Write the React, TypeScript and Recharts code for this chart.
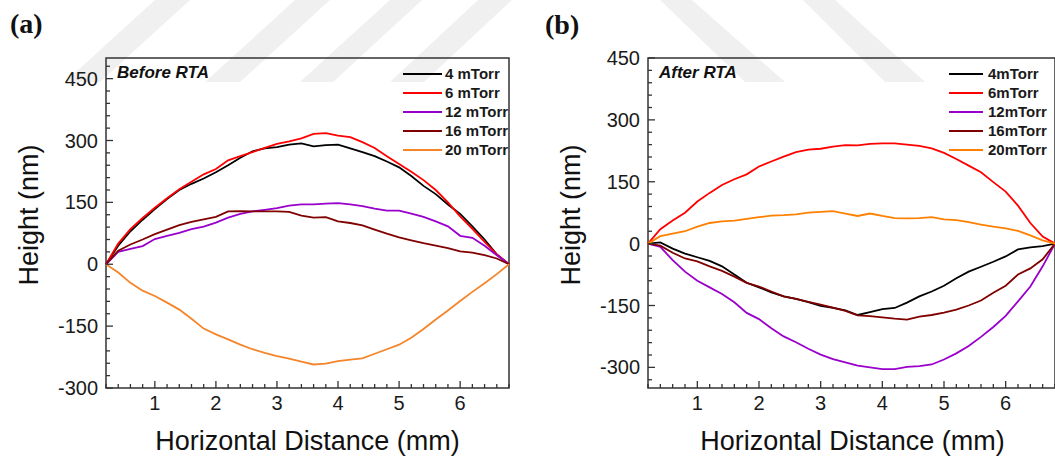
import { LineChart, Line, XAxis, YAxis, ReferenceArea, Legend } from 'recharts'

const SANS = 'Arial, "Liberation Sans", sans-serif'
const SERIF = '"Times New Roman", "Liberation Serif", serif'
const AXIS = '#333'

// Horizontal distance (mm), shared by every trace
const distance = [
  0.2, 0.4, 0.6, 0.8, 1.0, 1.2, 1.4, 1.6, 1.8, 2.0, 2.2, 2.4, 2.6, 2.8, 3.0, 3.2, 3.4,
  3.6, 3.8, 4.0, 4.2, 4.4, 4.6, 4.8, 5.0, 5.2, 5.4, 5.6, 5.8, 6.0, 6.2, 6.4, 6.6, 6.8,
]

// (a) Before RTA, height in nm
const before4 = [0, 45, 80, 108, 134, 158, 180, 195, 208, 223, 240, 258, 274, 281, 284, 290, 293, 286, 289, 290, 281, 272, 262, 249, 235, 214, 190, 170, 145, 122, 92, 60, 24, 0]
const before6 = [0, 50, 85, 112, 137, 160, 182, 200, 218, 231, 252, 262, 272, 282, 292, 298, 305, 316, 318, 312, 308, 296, 282, 262, 243, 224, 204, 180, 150, 116, 86, 54, 24, 0]
const before12 = [0, 30, 37, 44, 61, 69, 76, 85, 91, 101, 113, 122, 128, 132, 136, 142, 145, 145, 147, 148, 145, 141, 135, 130, 130, 123, 115, 104, 92, 69, 64, 45, 22, 0]
const before16 = [0, 33, 48, 60, 73, 84, 95, 103, 109, 115, 128, 129, 128, 128, 128, 127, 118, 113, 114, 104, 100, 94, 84, 74, 65, 58, 51, 45, 39, 31, 28, 22, 14, 0]
const before20 = [0, -20, -45, -64, -77, -93, -110, -132, -156, -170, -182, -195, -206, -215, -223, -229, -236, -243, -241, -235, -231, -228, -217, -206, -195, -178, -157, -134, -112, -89, -67, -46, -24, 0]

// (b) After RTA, height in nm
const after4 = [0, 3, -12, -24, -33, -42, -55, -75, -95, -106, -118, -128, -134, -142, -151, -156, -162, -173, -166, -159, -156, -143, -128, -116, -102, -84, -68, -56, -44, -31, -14, -9, -6, 0]
const after6 = [0, 35, 56, 75, 102, 123, 142, 156, 168, 187, 199, 211, 222, 228, 230, 235, 239, 238, 242, 243, 243, 240, 237, 231, 220, 205, 189, 173, 149, 126, 92, 50, 17, 0]
const after12 = [0, -8, -40, -68, -90, -106, -122, -142, -168, -183, -205, -225, -239, -255, -269, -280, -288, -296, -300, -304, -304, -299, -297, -293, -281, -266, -248, -226, -202, -175, -140, -104, -55, 0]
const after16 = [0, -5, -22, -36, -43, -55, -66, -80, -95, -104, -116, -128, -134, -141, -148, -155, -163, -174, -176, -179, -182, -184, -177, -173, -167, -160, -150, -138, -119, -102, -75, -60, -38, 0]
const after20 = [0, 18, 24, 30, 41, 50, 54, 56, 60, 64, 68, 69, 71, 75, 77, 79, 73, 67, 73, 67, 62, 61, 62, 64, 59, 57, 52, 46, 41, 37, 31, 20, 8, 0]

const namesBefore = ['4 mTorr', '6 mTorr', '12 mTorr', '16 mTorr', '20 mTorr']
const namesAfter = ['4mTorr', '6mTorr', '12mTorr', '16mTorr', '20mTorr']
const colorsBefore = ['#000000', '#ff0000', '#9900cc', '#800000', '#f5852a']
const colorsAfter = ['#000000', '#ff0000', '#9900cc', '#800000', '#ff8000']

// tick positions (majors get labels)
const xTicks = [
  0.2, 0.4, 0.6, 0.8, 1, 1.2, 1.4, 1.6, 1.8, 2, 2.2, 2.4, 2.6, 2.8, 3, 3.2, 3.4,
  3.6, 3.8, 4, 4.2, 4.4, 4.6, 4.8, 5, 5.2, 5.4, 5.6, 5.8, 6, 6.2, 6.4, 6.6, 6.8,
]
const yTicksBefore = [-300, -270, -240, -210, -180, -150, -120, -90, -60, -30, 0, 30, 60, 90, 120, 150, 180, 210, 240, 270, 300, 330, 360, 390, 420, 450, 480]
const yTicksAfter = [-330, -300, -270, -240, -210, -180, -150, -120, -90, -60, -30, 0, 30, 60, 90, 120, 150, 180, 210, 240, 270, 300, 330, 360, 390, 420, 450]

function XTick({ x, y, payload }: any) {
  const v = payload.value
  const major = Math.abs(v - Math.round(v)) < 1e-6 && v > 0.5 && v < 6.5
  return (
    <g>
      <line x1={x} x2={x} y1={y} y2={y - (major ? 7 : 4)} stroke={AXIS} strokeWidth={1.3} />
      {major && (
        <text x={x} y={y + 22} textAnchor="middle" fontSize={20} fontFamily={SANS} fill="#1a1a1a">
          {Math.round(v)}
        </text>
      )}
    </g>
  )
}

function YTick({ x, y, payload }: any) {
  const v = payload.value
  const major = v % 150 === 0
  return (
    <g>
      <line x1={x} x2={x + (major ? 7 : 4)} y1={y} y2={y} stroke={AXIS} strokeWidth={1.3} />
      {major && (
        <text x={x - 8} y={y} dy={7} textAnchor="end" fontSize={20} fontFamily={SANS} fill="#1a1a1a">
          {v}
        </text>
      )}
    </g>
  )
}

// legend drawn from our own arrays so the order stays 4, 6, 12, 16, 20
const legendContent = (names: string[], colors: string[], lineWidth: number, gap: number) => () => (
  <div>
    {names.map((n, k) => (
      <div key={n} style={{ display: 'flex', alignItems: 'center', height: 19 }}>
        <span style={{ width: lineWidth, height: 2, background: colors[k], marginRight: gap, flexShrink: 0 }} />
        <span style={{ fontSize: 15, fontWeight: 700, fontFamily: SANS, color: '#1a1a1a', whiteSpace: 'nowrap' }}>
          {n}
        </span>
      </div>
    ))}
  </div>
)

interface PanelProps {
  width: number
  yWidth: number
  marginRight: number
  yDomain: [number, number]
  yTicks: number[]
  series: number[][]
  names: string[]
  colors: string[]
  legendLeft: number
  lineWidth: number
  gap: number
}

function Panel({ width, yWidth, marginRight, yDomain, yTicks, series, names, colors, legendLeft, lineWidth, gap }: PanelProps) {
  const data = distance.map((x, i) => {
    const row: Record<string, number> = { x }
    series.forEach((s, k) => { row['s' + k] = s[i] })
    return row
  })
  return (
    <LineChart width={width} height={458} data={data} margin={{ top: 58, right: marginRight, bottom: 30, left: 0 }}>
      <XAxis
        dataKey="x"
        type="number"
        domain={[0.2, 6.8]}
        ticks={xTicks}
        interval={0}
        tickSize={0}
        tickMargin={0}
        tickLine={false}
        axisLine={false}
        height={40}
        tick={(p: any) => <XTick {...p} />}
      />
      <YAxis
        type="number"
        domain={yDomain}
        ticks={yTicks}
        interval={0}
        tickSize={0}
        tickMargin={0}
        tickLine={false}
        axisLine={false}
        width={yWidth}
        allowDataOverflow
        tick={(p: any) => <YTick {...p} />}
      />
      <ReferenceArea x1={0.2} x2={6.8} y1={yDomain[0]} y2={yDomain[1]} fill="none" stroke={AXIS} strokeWidth={1.5} ifOverflow="visible" />
      {series.map((_, k) => (
        <Line
          key={names[k]}
          dataKey={'s' + k}
          name={names[k]}
          stroke={colors[k]}
          strokeWidth={1.8}
          dot={false}
          type="linear"
          isAnimationActive={false}
        />
      ))}
      <Legend
        layout="vertical"
        align="center"
        verticalAlign="middle"
        content={legendContent(names, colors, lineWidth, gap)}
        wrapperStyle={{ top: 64, left: legendLeft, width: 120 }}
      />
    </LineChart>
  )
}

export default function App() {
  return (
    <div style={{ position: 'absolute', left: 0, top: 0, width: 1055, height: 458, background: '#fff', overflow: 'hidden' }}>
      {/* faint watermark stripes */}
      <svg width={1055} height={458} style={{ position: 'absolute', left: 0, top: 0 }}>
        <g fill="#f0f0f0">
          <polygon points="155,0 190,0 100,82 65,82" />
          <polygon points="295,0 330,0 240,82 205,82" />
          <polygon points="390,0 422,0 333,82 300,82" />
          <polygon points="478,0 512,0 424,82 390,82" />
          <polygon points="660,0 692,0 785,82 745,82" />
          <polygon points="803,0 835,0 925,82 885,82" />
        </g>
      </svg>
      <div style={{ position: 'absolute', left: 0, top: 0 }}>
        <Panel
          width={530}
          yWidth={106}
          marginRight={21}
          yDomain={[-300, 500]}
          yTicks={yTicksBefore}
          series={[before4, before6, before12, before16, before20]}
          names={namesBefore}
          colors={colorsBefore}
          legendLeft={403}
          lineWidth={39}
          gap={3}
        />
      </div>
      <div style={{ position: 'absolute', left: 530, top: 0 }}>
        <Panel
          width={525}
          yWidth={118}
          marginRight={0}
          yDomain={[-350, 450]}
          yTicks={yTicksAfter}
          series={[after4, after6, after12, after16, after20]}
          names={namesAfter}
          colors={colorsAfter}
          legendLeft={419}
          lineWidth={34}
          gap={5}
        />
      </div>
      <svg width={1055} height={458} style={{ position: 'absolute', left: 0, top: 0, pointerEvents: 'none' }}>
        <text x={10} y={33} fontFamily={SERIF} fontWeight={700} fontSize={28} fill="#111">(a)</text>
        <text x={545} y={34} fontFamily={SERIF} fontWeight={700} fontSize={28} fill="#111">(b)</text>
        <text x={117} y={77.5} fontFamily={SANS} fontWeight={700} fontStyle="italic" fontSize={17} fill="#111">Before RTA</text>
        <text x={659} y={77.5} fontFamily={SANS} fontWeight={700} fontStyle="italic" fontSize={17} fill="#111">After RTA</text>
        <text x={29} y={215} transform="rotate(-90 29 215)" textAnchor="middle" dominantBaseline="central" fontFamily={SANS} fontSize={27} fill="#111">Height (nm)</text>
        <text x={570.5} y={215} transform="rotate(-90 570.5 215)" textAnchor="middle" dominantBaseline="central" fontFamily={SANS} fontSize={27} fill="#111">Height (nm)</text>
        <text x={307.5} y={450} textAnchor="middle" fontFamily={SANS} fontSize={27} fill="#111">Horizontal Distance (mm)</text>
        <text x={852.5} y={450} textAnchor="middle" fontFamily={SANS} fontSize={27} fill="#111">Horizontal Distance (mm)</text>
      </svg>
    </div>
  )
}
